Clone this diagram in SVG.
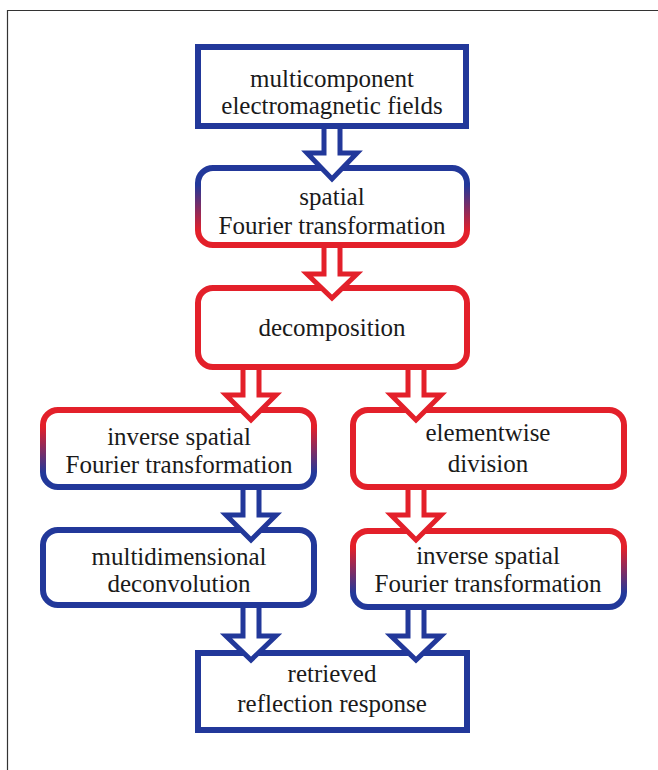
<svg xmlns="http://www.w3.org/2000/svg" width="658" height="770" viewBox="0 0 658 770">
<defs>
<linearGradient id="b2r" x1="0" y1="0" x2="0" y2="1">
<stop offset="0.22" stop-color="#22389a"/>
<stop offset="0.82" stop-color="#e3202a"/>
</linearGradient>
<linearGradient id="r2b" x1="0" y1="0" x2="0" y2="1">
<stop offset="0.22" stop-color="#e3202a"/>
<stop offset="0.82" stop-color="#22389a"/>
</linearGradient>
</defs>
<style>
.box{fill:#fff;stroke-width:6}
.blue{stroke:#22389a}
.red{stroke:#e3202a}
.arr{fill:#fff;stroke-width:5;stroke-linejoin:miter;stroke-miterlimit:10}
text{font-family:"Liberation Serif","Times New Roman",serif;font-size:25px;fill:#1a1a1a;text-anchor:middle}
</style>
<rect width="658" height="770" fill="#fff"/>
<path d="M7.5,770 V10.5 H658" fill="none" stroke="#333" stroke-width="1.2"/>

<g id="n1"><rect class="box blue" x="198" y="47" width="268" height="79"/><text x="332" y="87">multicomponent</text><text x="332" y="114">electromagnetic fields</text></g>
<g id="n2"><rect class="box" stroke="url(#b2r)" x="198" y="168" width="269" height="77" rx="15"/><text x="332" y="205">spatial</text><text x="332" y="234">Fourier transformation</text></g>
<g id="n3"><rect class="box red" x="198" y="288" width="269" height="79" rx="15"/><text x="332" y="336">decomposition</text></g>
<g id="n4"><rect class="box" stroke="url(#r2b)" x="43" y="410" width="271" height="77" rx="15"/><text x="179" y="445">inverse spatial</text><text x="179" y="473">Fourier transformation</text></g>
<g id="n5"><rect class="box red" x="353" y="410" width="271" height="77" rx="15"/><text x="488" y="441">elementwise</text><text x="488" y="472">division</text></g>
<g id="n6"><rect class="box blue" x="43" y="530" width="271" height="75" rx="15"/><text x="179" y="565">multidimensional</text><text x="179" y="592">deconvolution</text></g>
<g id="n7"><rect class="box" stroke="url(#r2b)" x="353" y="531" width="271" height="76" rx="15"/><text x="488" y="564">inverse spatial</text><text x="488" y="592">Fourier transformation</text></g>
<g id="n8"><rect class="box blue" x="198" y="653" width="269" height="77"/><text x="332" y="682">retrieved</text><text x="332" y="712">reflection response</text></g>

<g id="connectors">
<path class="arr blue" d="M324,129 V153 H307 L332,179 L357,153 H340 V129"/>
<path class="arr red" d="M324,248 V274 H307 L332,298 L357,274 H340 V248"/>
<path class="arr red" d="M243,370 V395 H226 L251,420 L276,395 H259 V370"/>
<path class="arr red" d="M408,370 V395 H391 L416,420 L441,395 H424 V370"/>
<path class="arr blue" d="M243,490 V515 H226 L251,540 L276,515 H259 V490"/>
<path class="arr red" d="M408,490 V515 H391 L416,540 L441,515 H424 V490"/>
<path class="arr blue" d="M243,608 V636 H226 L251,660 L276,636 H259 V608"/>
<path class="arr blue" d="M408,610 V636 H391 L416,660 L441,636 H424 V610"/>
</g>
</svg>
